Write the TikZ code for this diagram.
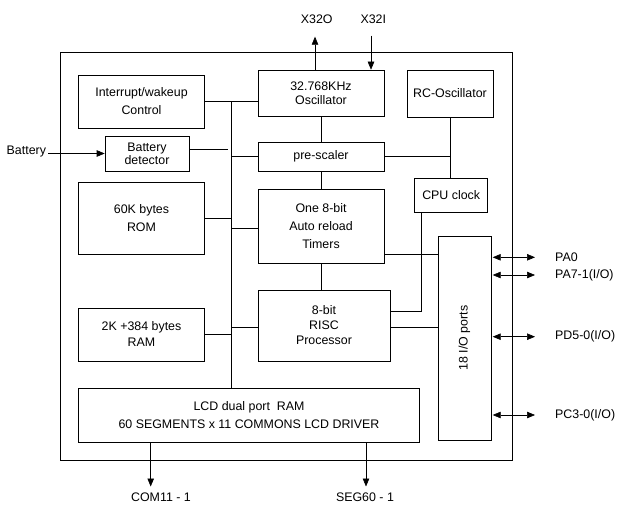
\documentclass[tikz,border=0pt]{standalone}
\usepackage{fontspec}
\setmainfont{Liberation Sans}
\usetikzlibrary{arrows.meta}
\begin{document}
\begin{tikzpicture}[x=1pt,y=-1pt,
  box/.style={draw, line width=0.6pt, inner sep=0pt, align=center, font=\fontsize{12.4}{18}\selectfont},
  wire/.style={line width=0.6pt},
  arr/.style={line width=0.6pt, -{Triangle[length=8pt,width=6.5pt]}},
  darr/.style={line width=0.6pt, {Triangle[length=8pt,width=6.5pt]}-{Triangle[length=8pt,width=6.5pt]}},
  lbl/.style={inner sep=0pt, font=\fontsize{12.4}{14}\selectfont}]
\useasboundingbox (0,0) rectangle (617,505);
% outer frame
\draw[line width=1pt] (60.2,52.3) rectangle (512.6,460);
% blocks
\node[box, minimum width=126pt, minimum height=53pt] (intr) at (141.5,101.5) {Interrupt/wakeup\\Control};
\node[box, minimum width=126pt, minimum height=46pt, font=\fontsize{12.4}{14}\selectfont] (osc) at (321,93) {32.768KHz\\Oscillator};
\node[box, minimum width=86pt, minimum height=47pt] (rc) at (450,93.5) {RC-Oscillator};
\node[box, minimum width=84pt, minimum height=34.5pt, font=\fontsize{12.4}{13}\selectfont] (bat) at (147,153.7) {Battery\\detector};
\node[box, minimum width=126pt, minimum height=29pt] (pre) at (321,156.5) {pre-scaler};
\node[box, minimum width=126pt, minimum height=72pt] (rom) at (141.5,218) {60K bytes\\ROM};
\node[box, minimum width=126pt, minimum height=74pt] (tim) at (321,226) {One 8-bit\\Auto reload\\Timers};
\node[box, minimum width=73pt, minimum height=34pt] (cpu) at (451.2,195) {CPU clock};
\node[box, minimum width=53pt, minimum height=204pt] (io) at (464.3,338) {};
\node[lbl, rotate=90] (iotxt) at (io.center) {18 I/O ports};
\node[box, minimum width=132pt, minimum height=71pt, font=\fontsize{12.4}{15}\selectfont] (risc) at (324,325.5) {8-bit\\RISC\\Processor};
\node[box, minimum width=126pt, minimum height=53pt, font=\fontsize{12.4}{16}\selectfont] (ram) at (141.5,334.5) {2K +384 bytes\\RAM};
\node[box, minimum width=341pt, minimum height=54pt] (lcd) at (249,415) {LCD dual port\ \ RAM\\60 SEGMENTS x 11 COMMONS LCD DRIVER};
% bus
\coordinate (busT) at (231.5,101.5);
\draw[wire] (intr.east) -- (osc.west |- intr.east);
\draw[wire] (busT) -- (busT |- lcd.north);
\coordinate (batend) at (228.3,149);
\draw[wire] (batend -| bat.east) -- (batend);
\draw[wire] (busT |- pre.west) -- (pre.west);
\draw[wire] (osc.south) -- (pre.north);
\draw[wire] (pre.south) -- (tim.north);
\draw[wire] (rc.south) -- (rc.south |- cpu.north);
\draw[wire] (pre.east) -- (rc.south |- pre.east);
\draw[wire] (rom.east) -- (busT |- rom.east);
\coordinate (timbus) at (231.5,228);
\draw[wire] (timbus) -- (timbus -| tim.west);
\coordinate (timio) at (384,254);
\draw[wire] (timio -| tim.east) -- (timio -| io.west);
\coordinate (cpudn) at (421.5,311);
\draw[wire] (cpudn |- cpu.south) -- (cpudn) -- (cpudn -| risc.east);
\coordinate (riscio) at (390,327);
\draw[wire] (riscio -| risc.east) -- (riscio -| io.west);
\draw[wire] (tim.south) -- (tim.south |- risc.north);
\draw[wire] (busT |- riscio) -- (riscio -| risc.west);
\draw[wire] (ram.east) -- (busT |- ram.east);
% top pins
\coordinate (x32o) at (315,36.7);
\coordinate (x32i) at (371,35.7);
\draw[arr] (x32o |- osc.north) -- (x32o);
\draw[arr] (x32i) -- (x32i |- osc.north);
\node[lbl] (lx32o) at (316.7,19.5) {X32O};
\node[lbl] (lx32i) at (373.3,19.5) {X32I};
% battery
\node[lbl, anchor=west] (lbat) at (6.5,152) {Battery};
\coordinate (batin) at (48,153.5);
\draw[arr] (batin) -- (batin -| bat.west);
% right ports
\foreach \y/\t/\n in {257.3/{PA0}/pa, 275/{PA7-1(I/O)}/pb, 336.7/{PD5-0(I/O)}/pd, 415/{PC3-0(I/O)}/pc}{
  \coordinate (\n a) at (492.7,\y);
  \coordinate (\n b) at (535,\y);
  \draw[darr] (\n a) -- (\n b);
  \node[lbl, anchor=west] (\n l) at (555,\y) {\t};
}
% bottom pins
\coordinate (com) at (150.7,486.5);
\coordinate (seg) at (366,486.5);
\draw[arr] (com |- lcd.south) -- (com);
\draw[arr] (seg |- lcd.south) -- (seg);
\node[lbl] (lcom) at (161,497.5) {COM11 - 1};
\node[lbl] (lseg) at (365,497.5) {SEG60 - 1};
\end{tikzpicture}
\end{document}
